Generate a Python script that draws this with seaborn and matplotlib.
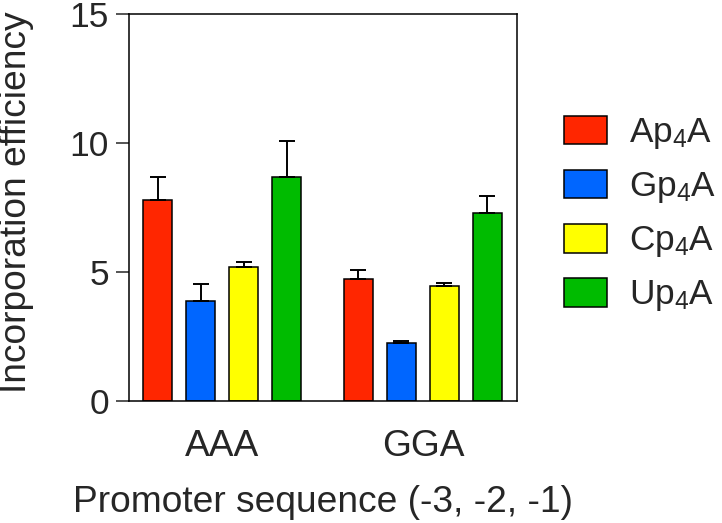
import matplotlib
matplotlib.use("Agg")
import matplotlib.pyplot as plt
import seaborn as sns
import pandas as pd

promoters = ["AAA", "GGA"]
compounds = ["Ap$_4$A", "Gp$_4$A", "Cp$_4$A", "Up$_4$A"]
colors = ["#FF2600", "#0066FF", "#FFFF00", "#00BB00"]
# values per compound, for [AAA, GGA]
means = {
    "Ap$_4$A": [7.79, 4.74],
    "Gp$_4$A": [3.86, 2.25],
    "Cp$_4$A": [5.18, 4.46],
    "Up$_4$A": [8.68, 7.30],
}
errs = {
    "Ap$_4$A": [0.89, 0.34],
    "Gp$_4$A": [0.67, 0.08],
    "Cp$_4$A": [0.21, 0.13],
    "Up$_4$A": [1.40, 0.63],
}
yticks = [0, 5, 10, 15]

rows = []
for c in compounds:
    for p, m in zip(promoters, means[c]):
        rows.append({"Promoter": p, "Compound": c, "Value": m})
df = pd.DataFrame(rows)

sns.set_style("ticks")
plt.rcParams["font.family"] = ["Liberation Sans", "DejaVu Sans"]
plt.rcParams["mathtext.fontset"] = "custom"
plt.rcParams["mathtext.rm"] = "Liberation Sans"
plt.rcParams["mathtext.default"] = "regular"

FS = 26.7
LFS = 25.3
fig = plt.figure(figsize=(7.22, 5.23), dpi=100)
ax = fig.add_axes([0.179, 0.2333, 0.5367, 0.7397])

sns.barplot(data=df, x="Promoter", y="Value", hue="Compound",
            order=promoters, hue_order=compounds,
            palette=dict(zip(compounds, colors)),
            width=0.857, gap=0.333, errorbar=None,
            edgecolor="black", linewidth=1.1, saturation=1, ax=ax)

bar_containers = list(ax.containers)
for i, cont in enumerate(bar_containers):
    c = compounds[i]
    for j, bar in enumerate(cont):
        x = bar.get_x() + bar.get_width() / 2
        y = bar.get_height()
        ax.errorbar(x, y, yerr=[[0], [errs[c][j]]], fmt="none",
                    ecolor="black", elinewidth=1.4, capsize=5.5,
                    capthick=1.4, zorder=1)

ax.set_xlim(-0.463, 1.467)
ax.set_ylim(0, 15)
ax.set_yticks(yticks)
ax.set_yticklabels([str(t) for t in yticks])
for s in ax.spines.values():
    s.set_linewidth(1.1)
    s.set_color("black")
ax.tick_params(axis="y", length=9.5, width=1.1, pad=5, labelsize=25.5, direction="out")
ax.tick_params(axis="x", length=0, pad=20, labelsize=FS)
ax.set_xlabel("Promoter sequence (-3, -2, -1)", fontsize=FS, labelpad=15)
ax.set_ylabel("Incorporation efficiency", fontsize=FS)
ax.yaxis.set_label_coords(-0.247, 0.515)

handles, labels = ax.get_legend_handles_labels()
ax.legend(handles, labels, loc="center left", bbox_to_anchor=(1.085, 0.482),
          frameon=False, fontsize=LFS, handlelength=1.22, handleheight=0.88,
          handletextpad=0.65, labelspacing=0.53, borderaxespad=0)

fig.savefig("out.png", dpi=100)
